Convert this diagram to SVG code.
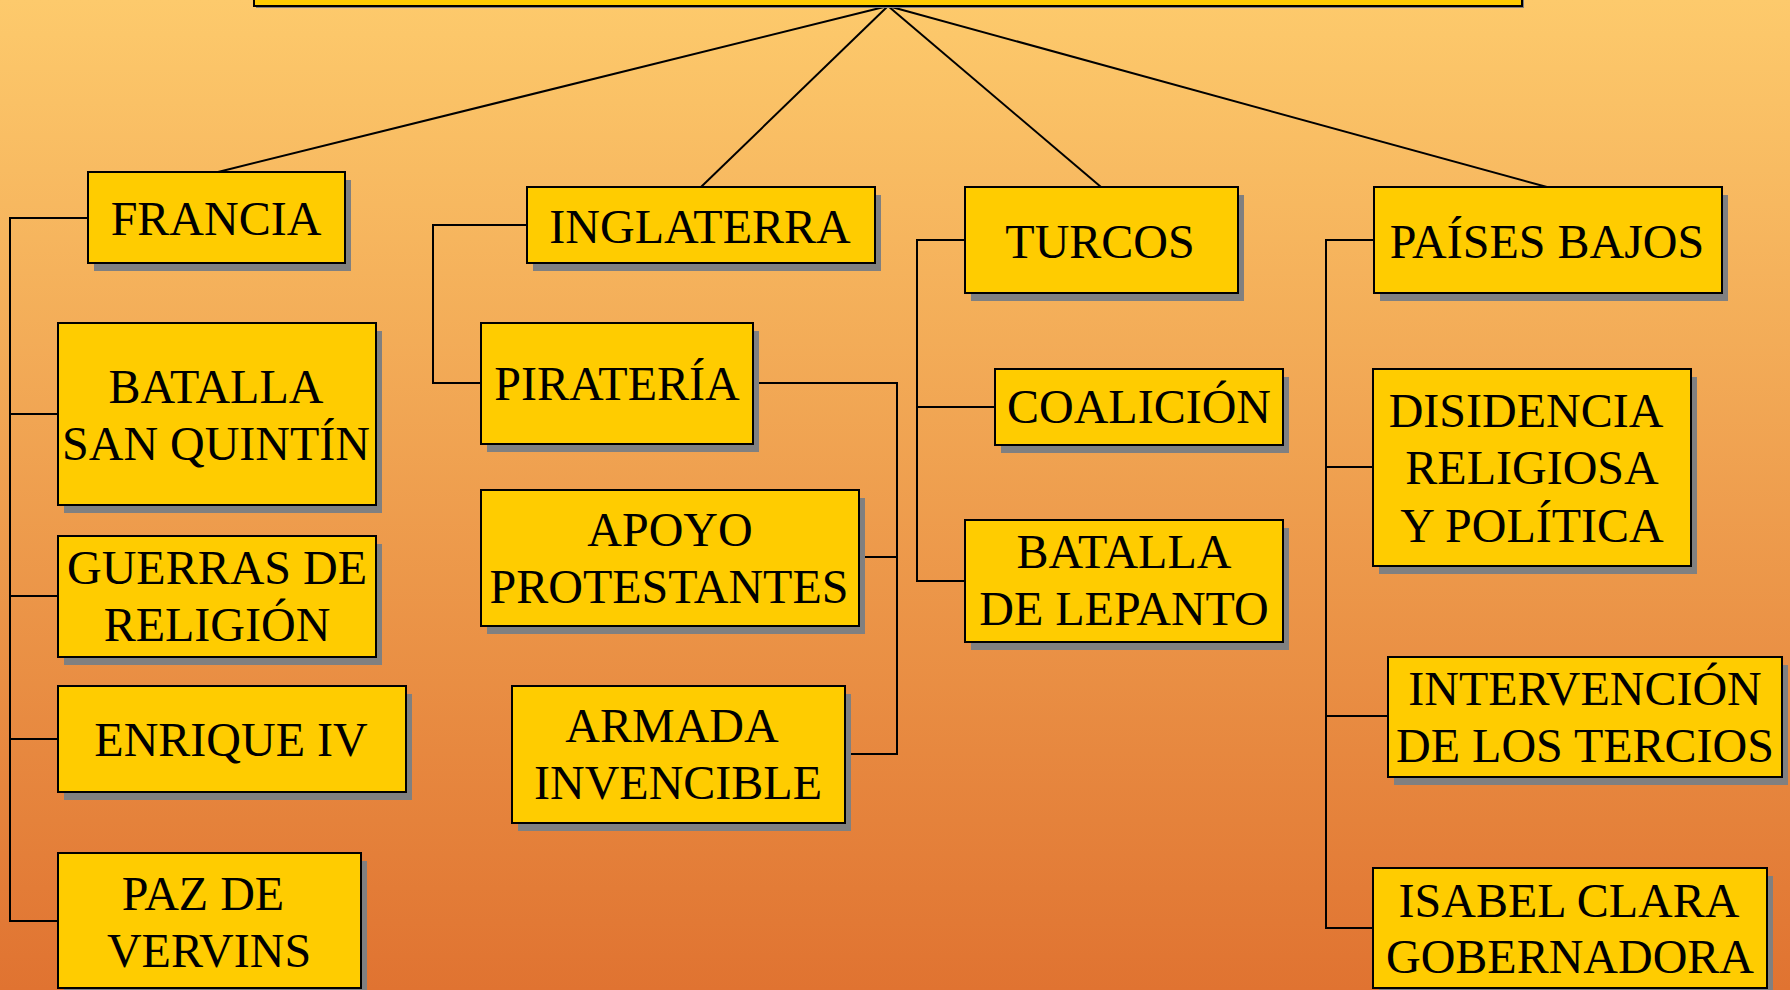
<svg xmlns="http://www.w3.org/2000/svg" width="1790" height="990" viewBox="0 0 1790 990">
<defs>
<linearGradient id="bg" x1="0" y1="0" x2="0" y2="1">
<stop offset="0" stop-color="#FDCA6C"/>
<stop offset="1" stop-color="#E07331"/>
</linearGradient>
<style>
.box{fill:#FFCC00;stroke:#000;stroke-width:2}
.sh{fill:#808080}
.t{font-family:"Liberation Serif","Times New Roman",serif;font-size:48px;fill:#000;text-anchor:middle}
.c{fill:none;stroke:#000;stroke-width:2}
</style>
</defs>
<rect x="0" y="0" width="1790" height="990" fill="url(#bg)"/>
<g id="connectors">
<line class="c" x1="888" y1="6" x2="218" y2="172"/>
<line class="c" x1="888" y1="6" x2="701" y2="187"/>
<line class="c" x1="888" y1="6" x2="1101" y2="187"/>
<line class="c" x1="888" y1="6" x2="1547" y2="187"/>
<path class="c" d="M88,218 H10 V921 H58"/>
<path class="c" d="M10,414 H58 M10,596 H58 M10,739 H58"/>
<path class="c" d="M527,225 H433 V383 H481"/>
<path class="c" d="M753,383 H897 V754 H845 M859,557 H897"/>
<path class="c" d="M965,240 H917 V581 H965 M917,407 H995"/>
<path class="c" d="M1374,240 H1326 V928 H1373 M1326,467 H1373 M1326,716 H1388"/>
</g>
<g id="top"><rect class="sh" x="256" y="-58" width="1268" height="66"/><rect class="box" x="254" y="-60" width="1268" height="66"/></g>
<g id="francia"><rect class="sh" x="94" y="180" width="257" height="91"/><rect class="box" x="88" y="172" width="257" height="91"/><text class="t" x="216" y="235">FRANCIA</text></g>
<g id="inglaterra"><rect class="sh" x="533" y="195" width="348" height="76"/><rect class="box" x="527" y="187" width="348" height="76"/><text class="t" x="700" y="243">INGLATERRA</text></g>
<g id="turcos"><rect class="sh" x="971" y="195" width="273" height="106"/><rect class="box" x="965" y="187" width="273" height="106"/><text class="t" x="1100" y="258">TURCOS</text></g>
<g id="paises"><rect class="sh" x="1380" y="195" width="348" height="106"/><rect class="box" x="1374" y="187" width="348" height="106"/><text class="t" x="1547" y="258">PAÍSES BAJOS</text></g>
<g id="sanquintin"><rect class="sh" x="64" y="331" width="318" height="182"/><rect class="box" x="58" y="323" width="318" height="182"/><text class="t" x="216" y="403">BATALLA</text><text class="t" x="216" y="460">SAN QUINTÍN</text></g>
<g id="guerras"><rect class="sh" x="64" y="544" width="318" height="121"/><rect class="box" x="58" y="536" width="318" height="121"/><text class="t" x="217" y="584">GUERRAS DE</text><text class="t" x="217" y="641">RELIGIÓN</text></g>
<g id="enrique"><rect class="sh" x="64" y="694" width="348" height="106"/><rect class="box" x="58" y="686" width="348" height="106"/><text class="t" x="231" y="756">ENRIQUE IV</text></g>
<g id="paz"><rect class="sh" x="64" y="861" width="303" height="135"/><rect class="box" x="58" y="853" width="303" height="135"/><text class="t" x="203" y="910">PAZ DE</text><text class="t" x="209" y="967">VERVINS</text></g>
<g id="pirateria"><rect class="sh" x="487" y="331" width="272" height="121"/><rect class="box" x="481" y="323" width="272" height="121"/><text class="t" x="617" y="400">PIRATERÍA</text></g>
<g id="apoyo"><rect class="sh" x="487" y="498" width="378" height="136"/><rect class="box" x="481" y="490" width="378" height="136"/><text class="t" x="670" y="546">APOYO</text><text class="t" x="669" y="603">PROTESTANTES</text></g>
<g id="armada"><rect class="sh" x="518" y="694" width="333" height="137"/><rect class="box" x="512" y="686" width="333" height="137"/><text class="t" x="672" y="742">ARMADA</text><text class="t" x="678" y="799">INVENCIBLE</text></g>
<g id="coalicion"><rect class="sh" x="1001" y="377" width="288" height="76"/><rect class="box" x="995" y="369" width="288" height="76"/><text class="t" x="1139" y="423">COALICIÓN</text></g>
<g id="lepanto"><rect class="sh" x="971" y="528" width="318" height="122"/><rect class="box" x="965" y="520" width="318" height="122"/><text class="t" x="1124" y="568">BATALLA</text><text class="t" x="1124" y="625">DE LEPANTO</text></g>
<g id="disidencia"><rect class="sh" x="1379" y="377" width="318" height="197"/><rect class="box" x="1373" y="369" width="318" height="197"/><text class="t" x="1526" y="427">DISIDENCIA</text><text class="t" x="1532" y="484">RELIGIOSA</text><text class="t" x="1532" y="542">Y POLÍTICA</text></g>
<g id="intervencion"><rect class="sh" x="1394" y="665" width="394" height="120"/><rect class="box" x="1388" y="657" width="394" height="120"/><text class="t" x="1585" y="705">INTERVENCIÓN</text><text class="t" x="1585" y="762">DE LOS TERCIOS</text></g>
<g id="isabel"><rect class="sh" x="1379" y="876" width="394" height="120"/><rect class="box" x="1373" y="868" width="394" height="120"/><text class="t" x="1569" y="917">ISABEL CLARA</text><text class="t" x="1570" y="973">GOBERNADORA</text></g>
</svg>
